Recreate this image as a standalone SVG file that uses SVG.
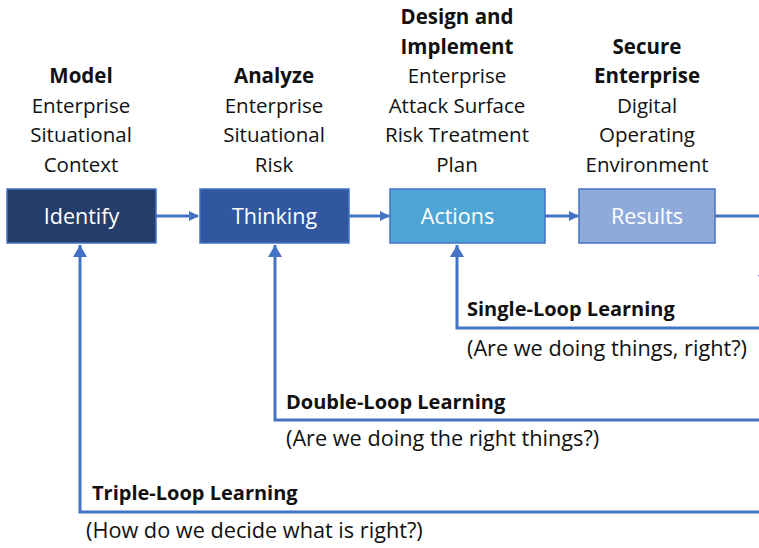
<svg xmlns="http://www.w3.org/2000/svg" width="759" height="548" viewBox="0 0 759 548">
<defs>
<marker id="ah" markerWidth="10" markerHeight="10" refX="9" refY="5" orient="auto" markerUnits="userSpaceOnUse" viewBox="0 0 10 10">
<path d="M0,0 L10,5 L0,10 Z" fill="#4472c4"/>
</marker>
<marker id="ahb" markerWidth="12" markerHeight="14" refX="12" refY="7" orient="auto" markerUnits="userSpaceOnUse" viewBox="0 0 12 14">
<path d="M0,0 L12,7 L0,14 Z" fill="#4472c4"/>
</marker>
</defs>
<style>
text{font-family:"Open Sans","Noto Sans",sans-serif;font-size:20.5px;fill:#111}
.c{text-anchor:middle}
.b{font-weight:bold}
.w{fill:#fff;font-size:21.5px}
.lb{font-weight:bold;font-size:20px}
.q{font-size:21.7px}
.box{stroke:#4472c4;stroke-width:1.5}
.ln{stroke:#4472c4;stroke-width:3;fill:none}
</style>
<rect width="759" height="548" fill="#fff"/>
<g id="labels">
<text class="c b" x="81" y="83">Model</text>
<text class="c" x="81" y="112.5">Enterprise</text>
<text class="c" x="81" y="142">Situational</text>
<text class="c" x="81" y="171.5">Context</text>
<text class="c b" x="274" y="83">Analyze</text>
<text class="c" x="274" y="112.5">Enterprise</text>
<text class="c" x="274" y="142">Situational</text>
<text class="c" x="274" y="171.5">Risk</text>
<text class="c b" x="457" y="24">Design and</text>
<text class="c b" x="457" y="53.5">Implement</text>
<text class="c" x="457" y="83">Enterprise</text>
<text class="c" x="457" y="112.5">Attack Surface</text>
<text class="c" x="457" y="142">Risk Treatment</text>
<text class="c" x="457" y="171.5">Plan</text>
<text class="c b" x="647" y="53.5">Secure</text>
<text class="c b" x="647" y="83">Enterprise</text>
<text class="c" x="647" y="112.5">Digital</text>
<text class="c" x="647" y="142">Operating</text>
<text class="c" x="647" y="171.5">Environment</text>
</g>
<g id="connectors">
<line class="ln" x1="156" y1="216" x2="198" y2="216" marker-end="url(#ah)"/>
<line class="ln" x1="336" y1="216" x2="389" y2="216" marker-end="url(#ah)"/>
<line class="ln" x1="545" y1="216" x2="578" y2="216" marker-end="url(#ah)"/>
<line class="ln" x1="715" y1="216" x2="763" y2="216"/>
<line class="ln" x1="763" y1="216" x2="763" y2="284" marker-end="url(#ah)"/>
<polyline class="ln" points="759,328 457,328 457,245" marker-end="url(#ahb)"/>
<polyline class="ln" points="759,420 275,420 275,245" marker-end="url(#ahb)"/>
<polyline class="ln" points="759,512 80,512 80,245" marker-end="url(#ahb)"/>
</g>
<g id="identify">
<rect class="box" x="7" y="189" width="149" height="54" fill="#253d6b"/>
<text class="c w" x="81.5" y="223.5">Identify</text>
</g>
<g id="thinking">
<rect class="box" x="200" y="189" width="149" height="54" fill="#3057a0"/>
<text class="c w" x="274.5" y="223.5">Thinking</text>
</g>
<g id="actions">
<rect class="box" x="390" y="189" width="155" height="54" fill="#4ea5d5"/>
<text class="c w" x="457.5" y="223.5">Actions</text>
</g>
<g id="results">
<rect class="box" x="579" y="189" width="136" height="54" fill="#8eaadb"/>
<text class="c w" x="647" y="223.5">Results</text>
</g>
<g id="loop-labels">
<text class="lb" x="467" y="316">Single-Loop Learning</text>
<text class="q" x="467" y="356">(Are we doing things, right?)</text>
<text class="lb" x="286" y="409">Double-Loop Learning</text>
<text class="q" x="286" y="446">(Are we doing the right things?)</text>
<text class="lb" x="92" y="500">Triple-Loop Learning</text>
<text class="q" x="86" y="538">(How do we decide what is right?)</text>
</g>
</svg>
